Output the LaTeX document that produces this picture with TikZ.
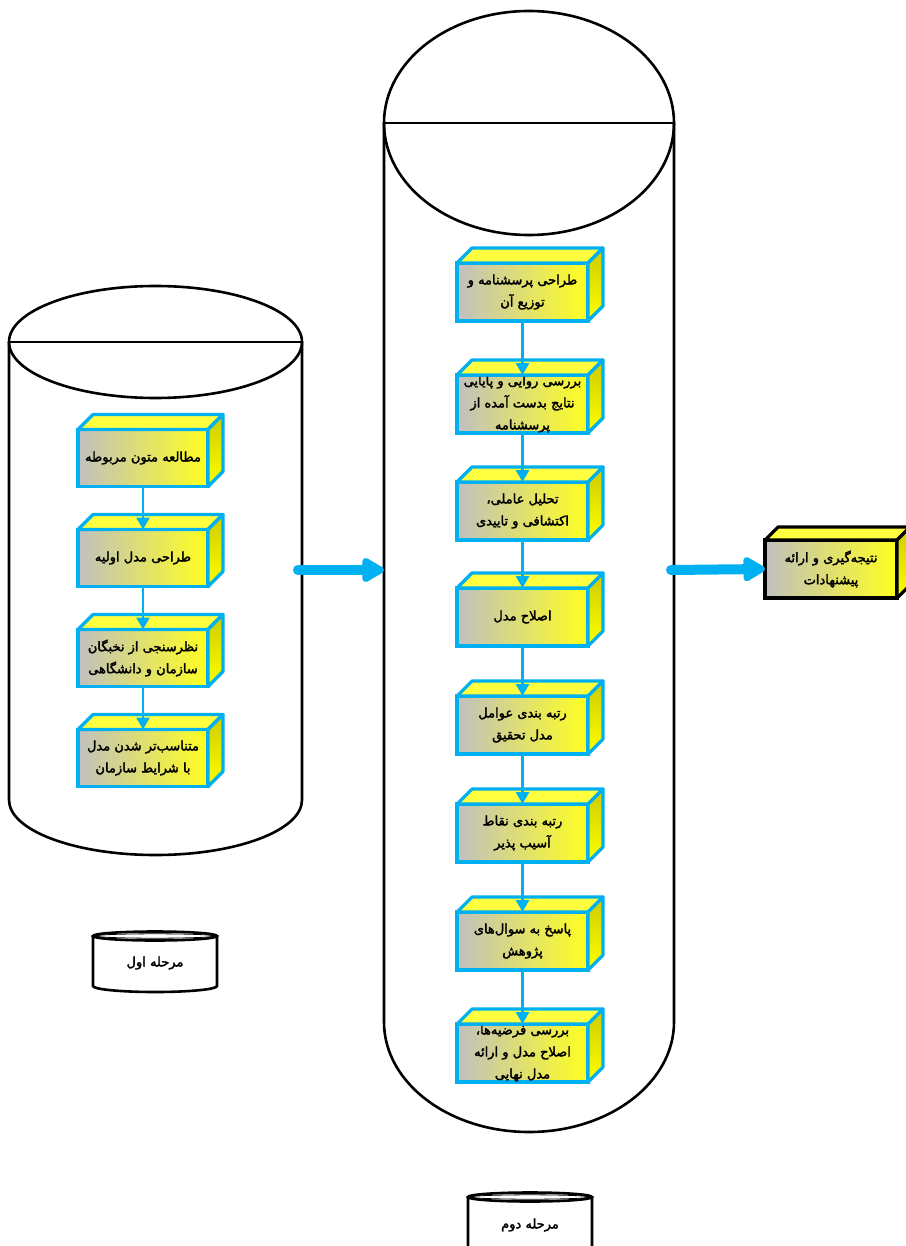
\documentclass[tikz,border=0pt]{standalone}
\usepackage{fontspec}
\newfontfamily\fa[Script=Arabic,FakeBold=2.4]{DejaVu Sans}
\TeXXeTstate=1
\usetikzlibrary{arrows.meta}
\definecolor{cblue}{HTML}{00B0F0}
\definecolor{fgray}{HTML}{C0C0C0}
\definecolor{fyel}{HTML}{FFFF20}
\definecolor{topyel}{HTML}{FFFF40}
\definecolor{sideyel}{HTML}{CCCC00}
\newcommand\rl[1]{\beginR #1\endR}
\newcommand\zw{^^^^200c}
\tikzset{
  pfont/.style={font=\fa\fontsize{13}{22}\selectfont},
  front/.style={pfont, draw=#1, line width=3.2pt, outer sep=0pt, inner sep=0pt,
    left color=fgray, right color=fyel, align=center, text=black},
  frontL/.style={front=cblue, minimum width=130pt, minimum height=57pt},
  frontR/.style={front=cblue, minimum width=131pt, minimum height=58pt},
  frontF/.style={front=black, minimum width=132pt, minimum height=58pt},
  conn/.style={draw=cblue, line width=2.8pt, -{Triangle[length=12pt,width=13pt]}},
  bigarrow/.style={draw=cblue, line width=10pt, line cap=round, -{Triangle[length=25pt,width=27pt,round=false]}},
  cyl/.style={draw=black, line width=2.6pt},
  lbl/.style={pfont, align=center, text=black},
}
\newcommand\cubefaces[3]{% node, border colour, depth
  \filldraw[draw=#2, line width=3.2pt, fill=topyel, line join=round]
    (#1.north west) -- ([shift={(#3,-#3)}]#1.north west) -- ([shift={(#3,-#3)}]#1.north east) -- (#1.north east) -- cycle;
  \shadedraw[draw=#2, line width=3.2pt, top color=sideyel, bottom color=yellow, line join=round]
    (#1.north east) -- ([shift={(#3,-#3)}]#1.north east) -- ([shift={(#3,-#3)}]#1.south east) -- (#1.south east) -- cycle;
}
\begin{document}
\begin{tikzpicture}[x=1pt,y=-1pt]
\useasboundingbox[fill=white] (0,0) rectangle (905,1246);

% left cylinder
\draw[cyl] (9,342) -- (9,800) arc[start angle=180,end angle=0,x radius=146.5,y radius=55] -- (302,342);
\draw[cyl] (155.5,342) ellipse[x radius=146.5,y radius=56];
\draw[cyl] (9,342) -- (302,342);
\coordinate (cylLe) at (298,570);

% right cylinder
\draw[cyl] (384,123) -- (384,1022) arc[start angle=180,end angle=0,x radius=145,y radius=110] -- (674,123);
\draw[cyl] (529,123) ellipse[x radius=145,y radius=112];
\draw[cyl] (384,123) -- (674,123);
\coordinate (cylRw) at (384,570);
\coordinate (cylRe) at (671,570);

% left boxes
\node[frontL] (l1) at (143,458) {\rl{مطالعه متون مربوطه}};
\node[frontL] (l2) at (143,558) {\rl{طراحی مدل اولیه}};
\node[frontL] (l3) at (143,658) {\rl{نظرسنجی از نخبگان}\\\rl{سازمان و دانشگاهی}};
\node[frontL] (l4) at (143,758) {\rl{متناسب\zw تر شدن مدل}\\\rl{با شرایط سازمان}};
\foreach \n in {l1,l2,l3,l4} {\cubefaces{\n}{cblue}{15}}

% right boxes
\node[frontR] (r1) at (522.5,292) {\rl{طراحی پرسشنامه و}\\\rl{توزیع آن}};
\node[frontR] (r2) at (522.5,404) {\rl{بررسی روایی و پایایی}\\\rl{نتایج بدست آمده از}\\\rl{پرسشنامه}};
\node[frontR] (r3) at (522.5,511) {\rl{تحلیل عاملی،}\\\rl{اکتشافی و تاییدی}};
\node[frontR] (r4) at (522.5,617) {\rl{اصلاح مدل}};
\node[frontR] (r5) at (522.5,725) {\rl{رتبه بندی عوامل}\\\rl{مدل تحقیق}};
\node[frontR] (r6) at (522.5,833) {\rl{رتبه بندی نقاط}\\\rl{آسیب پذیر}};
\node[frontR] (r7) at (522.5,941) {\rl{پاسخ به سوال\zw های}\\\rl{پژوهش}};
\node[frontR] (r8) at (522.5,1053) {\rl{بررسی فرضیه\zw ها،}\\\rl{اصلاح مدل و ارائه}\\\rl{مدل نهایی}};
\foreach \n in {r1,r2,r3,r4,r5,r6,r7,r8} {\cubefaces{\n}{cblue}{15}}

% final box
\node[frontF] (f) at (831,569) {\rl{نتیجه\zw گیری و ارائه}\\\rl{پیشنهادات}};
\cubefaces{f}{black}{13}

% connectors
\draw[conn] (l1.south) -- (l2.north);
\draw[conn] (l2.south) -- (l3.north);
\draw[conn] (l3.south) -- (l4.north);
\draw[conn] (r1.south) -- (r2.north);
\draw[conn] (r2.south) -- (r3.north);
\draw[conn] (r3.south) -- (r4.north);
\draw[conn] (r4.south) -- (r5.north);
\draw[conn] (r5.south) -- (r6.north);
\draw[conn] (r6.south) -- (r7.north);
\draw[conn] (r7.south) -- (r8.north);

\draw[bigarrow] (cylLe) -- (cylRw);
\draw[bigarrow] (cylRe) -- (f.west);

% small cylinders
\draw[cyl] (93,936) -- (93,986) arc[start angle=180,end angle=0,x radius=62,y radius=6] -- (217,936);
\draw[cyl] (155,936) ellipse[x radius=62,y radius=4.5];
\draw[line width=0.8pt] (155,936) ellipse[x radius=59,y radius=2.2];
\node[lbl] (s1) at (155,963) {\rl{مرحله اول}};

\draw[cyl] (468,1197) -- (468,1250) arc[start angle=180,end angle=0,x radius=62,y radius=6] -- (592,1197);
\draw[cyl] (530,1197) ellipse[x radius=62,y radius=4.5];
\draw[line width=0.8pt] (530,1197) ellipse[x radius=59,y radius=2.2];
\node[lbl] (s2) at (530,1225) {\rl{مرحله دوم}};
\end{tikzpicture}
\end{document}
